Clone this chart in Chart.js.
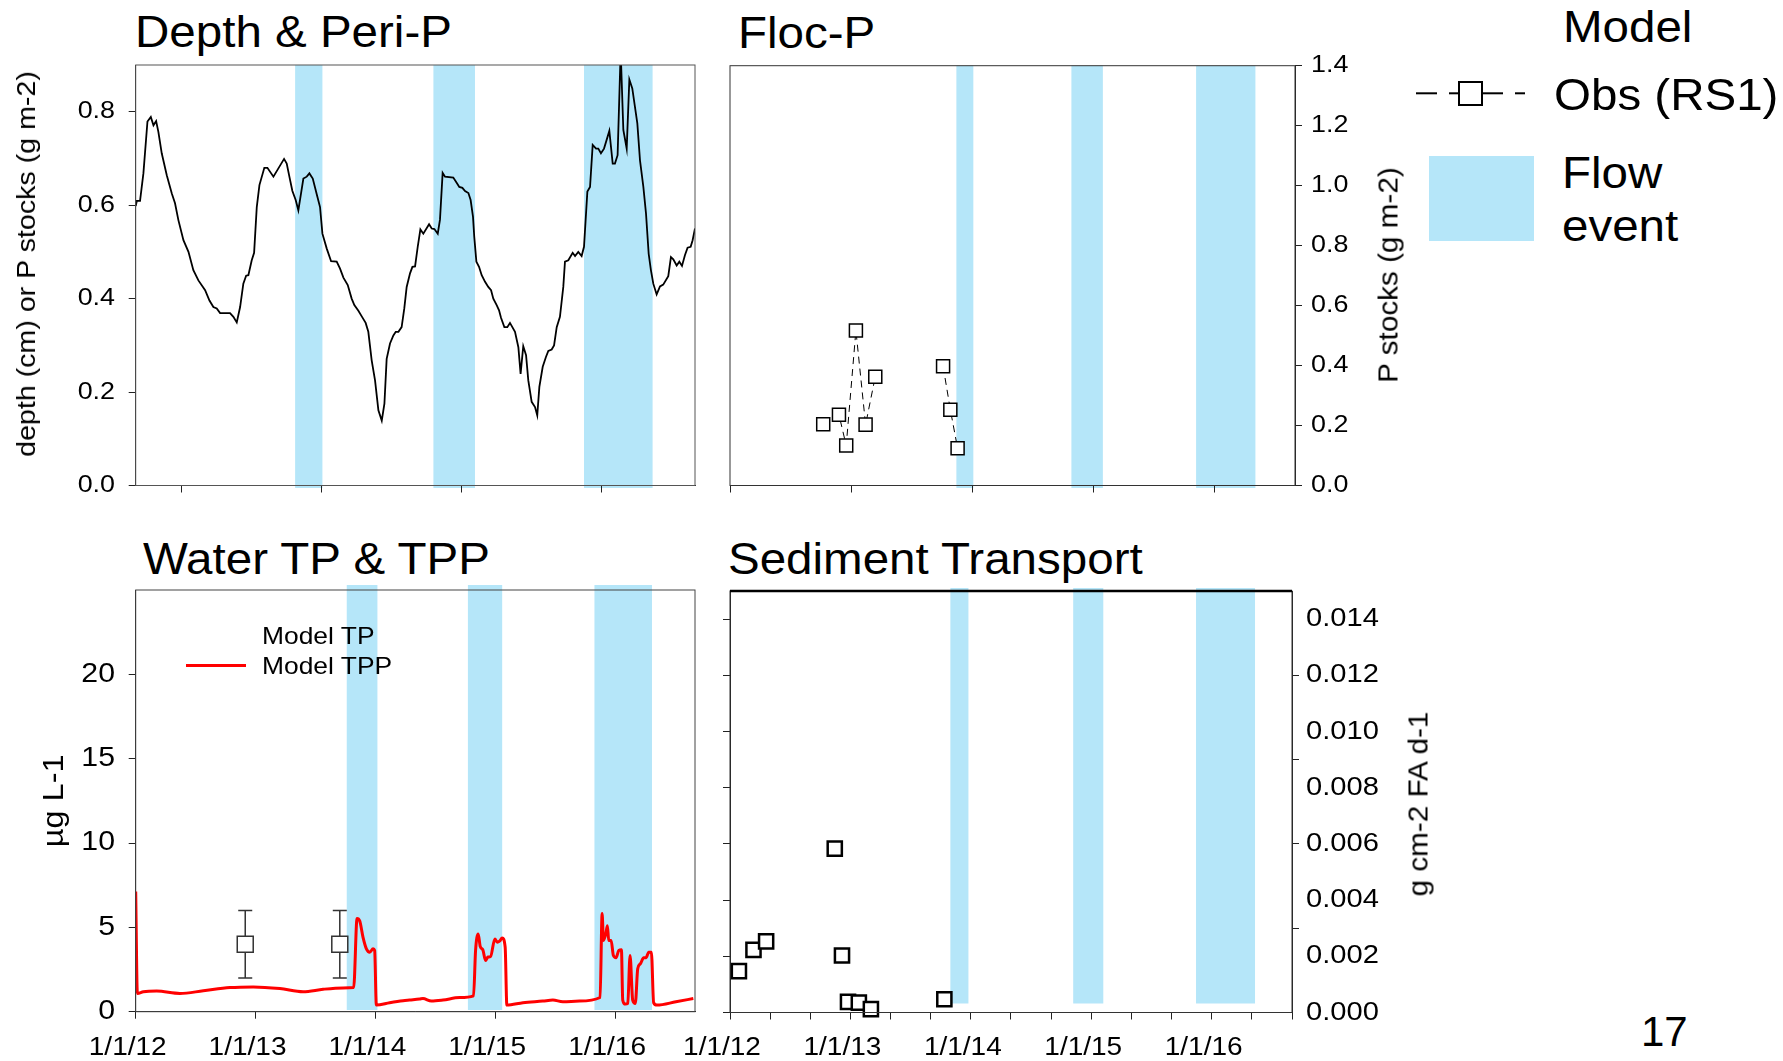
<!DOCTYPE html>
<html>
<head>
<meta charset="utf-8">
<script src="https://cdn.jsdelivr.net/npm/chart.js@4.4.1/dist/chart.umd.min.js"></script>
<style>
  body { margin: 0; background: #fff; width: 1783px; height: 1061px; position: relative; overflow: hidden;
         font-family: 'Liberation Sans', Arial, Helvetica, sans-serif; }
  canvas { position: absolute; }
  .txt { position: absolute; white-space: nowrap; line-height: 1; transform-origin: 0 0; color: #000; }
  .ttl { font-size: 44px; transform: scaleX(1.08); }
  .rot { transform-origin: 50% 50%; transform: translate(-50%, -50%) rotate(-90deg) scaleX(1.1); }
</style>
</head>
<body>
<div class="txt ttl" style="left:135px;top:9.5px">Depth &amp; Peri-P</div>
<div class="txt ttl" style="left:738px;top:11px">Floc-P</div>
<div class="txt ttl" style="left:143px;top:536.5px">Water TP &amp; TPP</div>
<div class="txt ttl" style="left:728px;top:536.5px">Sediment Transport</div>

<canvas id="cDepth" width="720" height="460" style="left:0;top:55px"></canvas>
<canvas id="cFloc" width="720" height="460" style="left:700px;top:55px"></canvas>
<canvas id="cWater" width="720" height="486" style="left:0;top:575px"></canvas>
<canvas id="cSed" width="760" height="486" style="left:660px;top:575px"></canvas>

<div class="txt rot" style="left:26px;top:264px;font-size:26px">depth (cm) or P stocks (g m-2)</div>
<div class="txt rot" style="left:1389px;top:275px;font-size:27px">P stocks (g m-2)</div>
<div class="txt rot" style="left:1419px;top:804px;font-size:27px">g cm-2 FA d-1</div>

<!-- legend, top right -->
<div class="txt ttl" style="left:1563px;top:4.5px">Model</div>
<svg style="position:absolute;left:1410px;top:78px" width="125" height="32">
  <g stroke="#000" stroke-width="2">
    <line x1="6" y1="15.3" x2="27" y2="15.3"/>
    <line x1="39" y1="15.3" x2="49" y2="15.3"/>
    <line x1="72" y1="15.3" x2="93" y2="15.3"/>
    <line x1="105" y1="15.3" x2="115" y2="15.3"/>
    <rect x="49" y="4" width="23" height="23" fill="#fff"/>
  </g>
</svg>
<div class="txt ttl" style="left:1554px;top:72.8px">Obs (RS1)</div>
<div style="position:absolute;left:1429px;top:156px;width:105px;height:85px;background:rgb(181,230,249)"></div>
<div class="txt ttl" style="left:1562px;top:150.8px">Flow</div>
<div class="txt ttl" style="left:1562px;top:203.5px">event</div>

<!-- legend, water panel -->
<div class="txt" style="left:262px;top:623.7px;font-size:24px;transform:scaleX(1.1)">Model TP</div>
<div class="txt" style="left:262px;top:654.2px;font-size:24px;transform:scaleX(1.1)">Model TPP</div>
<div style="position:absolute;left:186px;top:663.5px;width:60px;height:3px;background:#ff0000"></div>

<div class="txt" style="left:1641px;top:1011.4px;font-size:42px">17</div>

<script>
// x values are decimal years
const yearTicks = [2012, 2013, 2014, 2015, 2016];
const thirdTicks = [2012.333, 2012.667, 2013.333, 2013.667, 2014.333, 2014.667,
                    2015.333, 2015.667, 2016.333, 2016.667];

const depthTicks = [0, 0.2, 0.4, 0.6, 0.8];
const flocTicks = [0, 0.2, 0.4, 0.6, 0.8, 1.0, 1.2, 1.4];
const waterTicks = [0, 5, 10, 15, 20];
const sedLabelTicks = [0, 0.002, 0.004, 0.006, 0.008, 0.010, 0.012, 0.014];
const sedMarkTicks = [0.003, 0.006, 0.009, 0.012];

// flow events, one list per panel (bands were placed by hand in the original)
const flowDepth = [[2013.81, 2014.005], [2014.798, 2015.095], [2015.874, 2016.364]];
const flowFloc = [[2013.87, 2014.01], [2014.82, 2015.08], [2015.85, 2016.34]];
const flowWater = [[2013.761, 2014.017], [2014.772, 2015.058], [2015.828, 2016.308]];
const flowSed = [[2013.83, 2013.98], [2014.85, 2015.10], [2015.87, 2016.36]];

// Depth & Peri-P
const depthT = [2012.671, 2012.679, 2012.702, 2012.726, 2012.755, 2012.779, 2012.798, 2012.817, 2012.833, 2012.857,
  2012.893, 2012.929, 2012.952, 2012.976, 2013.012, 2013.048, 2013.083, 2013.119, 2013.167, 2013.198,
  2013.226, 2013.250, 2013.274, 2013.345, 2013.369, 2013.393, 2013.417, 2013.440, 2013.460, 2013.476,
  2013.500, 2013.517, 2013.536, 2013.555, 2013.590, 2013.612, 2013.655, 2013.731, 2013.750, 2013.769,
  2013.790, 2013.814, 2013.833, 2013.869, 2013.893, 2013.912, 2013.936, 2013.969, 2013.988,
  2014.005, 2014.036, 2014.067, 2014.107, 2014.131, 2014.155, 2014.186, 2014.214, 2014.233, 2014.262,
  2014.286, 2014.314, 2014.333, 2014.357, 2014.381, 2014.405, 2014.429, 2014.448, 2014.464, 2014.488,
  2014.512, 2014.529, 2014.548, 2014.571, 2014.590, 2014.607, 2014.631, 2014.648, 2014.667, 2014.686,
  2014.705, 2014.726, 2014.767, 2014.786, 2014.805, 2014.829, 2014.845, 2014.864, 2014.881, 2014.940,
  2014.964, 2014.983, 2015.005, 2015.024, 2015.048, 2015.064, 2015.081, 2015.090, 2015.105, 2015.124,
  2015.143, 2015.167, 2015.190, 2015.210, 2015.226, 2015.250, 2015.267, 2015.281, 2015.305,
  2015.326, 2015.345, 2015.381, 2015.405, 2015.421, 2015.440, 2015.460, 2015.476, 2015.500, 2015.524,
  2015.540, 2015.555, 2015.579, 2015.602, 2015.619, 2015.643, 2015.660, 2015.679, 2015.702, 2015.726,
  2015.738, 2015.762, 2015.793, 2015.810, 2015.833, 2015.857, 2015.874, 2015.898, 2015.917, 2015.936,
  2015.960, 2015.976, 2015.995, 2016.017, 2016.055, 2016.079, 2016.095, 2016.114, 2016.136, 2016.155,
  2016.179, 2016.198, 2016.219, 2016.255, 2016.274, 2016.298, 2016.317, 2016.336, 2016.352, 2016.369,
  2016.393, 2016.417, 2016.440, 2016.476, 2016.495, 2016.512, 2016.536, 2016.555, 2016.574, 2016.595,
  2016.614, 2016.636, 2016.650, 2016.667];
const depthV = [0.598, 0.609, 0.609, 0.668, 0.779, 0.789, 0.771, 0.780, 0.757, 0.711,
  0.664, 0.625, 0.604, 0.568, 0.525, 0.500, 0.461, 0.439, 0.418, 0.396,
  0.382, 0.379, 0.369, 0.369, 0.361, 0.349, 0.382, 0.432, 0.449, 0.450,
  0.482, 0.498, 0.596, 0.643, 0.680, 0.680, 0.661, 0.699, 0.689, 0.661,
  0.631, 0.611, 0.589, 0.657, 0.661, 0.668, 0.657, 0.618, 0.596,
  0.539, 0.507, 0.480, 0.479, 0.464, 0.445, 0.429, 0.400, 0.386, 0.374,
  0.362, 0.348, 0.329, 0.268, 0.225, 0.161, 0.139, 0.175, 0.271, 0.304,
  0.321, 0.329, 0.329, 0.339, 0.379, 0.425, 0.454, 0.468, 0.469, 0.511,
  0.548, 0.539, 0.559, 0.550, 0.549, 0.539, 0.569, 0.669, 0.661, 0.659,
  0.648, 0.639, 0.637, 0.630, 0.626, 0.611, 0.575, 0.532, 0.479, 0.468,
  0.450, 0.436, 0.425, 0.418, 0.400, 0.386, 0.375, 0.359, 0.339,
  0.339, 0.348, 0.329, 0.296, 0.239, 0.298, 0.279, 0.225, 0.179, 0.168,
  0.150, 0.211, 0.254, 0.275, 0.288, 0.291, 0.300, 0.339, 0.361, 0.425,
  0.479, 0.482, 0.498, 0.491, 0.500, 0.491, 0.511, 0.629, 0.639, 0.729,
  0.721, 0.721, 0.711, 0.721, 0.759, 0.689, 0.689, 0.707, 0.930, 0.761,
  0.721, 0.869, 0.850, 0.775, 0.696, 0.639, 0.582, 0.496, 0.461, 0.432,
  0.409, 0.426, 0.430, 0.448, 0.489, 0.484, 0.471, 0.479, 0.470, 0.493,
  0.509, 0.511, 0.525, 0.550];

// Floc-P observations (null breaks the line)
const flocT = [2012.77, 2012.90, 2012.96, 2013.04, 2013.12, 2013.20, 2013.50, 2013.76, 2013.82, 2013.88];
const flocV = [0.204, 0.236, 0.133, 0.517, 0.203, 0.363, null, 0.398, 0.253, 0.124];

// Water TPP model and TP observations
const tppT = [2012.000, 2012.014, 2012.064, 2012.175, 2012.369, 2012.564, 2012.786, 2012.981, 2013.203, 2013.397,
  2013.564, 2013.731, 2013.819, 2013.847, 2013.869, 2013.897, 2013.925, 2013.953, 2013.981, 2013.994,
  2014.008, 2014.119, 2014.231, 2014.286, 2014.369, 2014.397, 2014.467, 2014.564, 2014.703, 2014.819,
  2014.836, 2014.858, 2014.875, 2014.897, 2014.919, 2014.939, 2014.961, 2014.997, 2015.017, 2015.036,
  2015.058, 2015.083, 2015.097, 2015.231, 2015.397, 2015.481, 2015.564, 2015.703, 2015.875, 2015.892,
  2015.903, 2015.925, 2015.936, 2015.947, 2015.967, 2015.986, 2016.008, 2016.031, 2016.053, 2016.064,
  2016.086, 2016.106, 2016.125, 2016.147, 2016.169, 2016.189, 2016.211, 2016.239, 2016.258, 2016.281,
  2016.303, 2016.322, 2016.350, 2016.508, 2016.653];
const tppV = [7.12, 1.08, 1.18, 1.22, 1.08, 1.24, 1.43, 1.47, 1.37, 1.18,
  1.33, 1.41, 1.43, 5.53, 5.39, 4.41, 3.73, 3.53, 3.73, 3.63,
  0.39, 0.53, 0.65, 0.69, 0.75, 0.78, 0.63, 0.69, 0.84, 0.94,
  3.63, 4.61, 3.86, 3.67, 3.04, 3.24, 3.27, 4.31, 4.12, 4.18,
  4.37, 3.82, 0.39, 0.53, 0.63, 0.69, 0.59, 0.63, 0.84, 5.82,
  4.22, 4.71, 5.10, 4.22, 4.22, 3.33, 3.20, 3.63, 3.67, 0.69,
  0.45, 0.49, 3.33, 0.69, 0.49, 2.55, 2.84, 3.20, 3.20, 3.53,
  3.53, 0.53, 0.39, 0.59, 0.78];
const tpObsT = [2012.914, 2013.703];
const tpObsV = [4, 4];
const tpObsLo = [2, 2];
const tpObsHi = [6, 6];

// Sediment transport observations
const sedT = [2012.074, 2012.195, 2012.300, 2012.870, 2012.930, 2012.980, 2013.070, 2013.170, 2013.780];
const sedV = [0.00147, 0.00223, 0.00253, 0.00583, 0.00203, 0.00038, 0.00035, 0.00012, 0.00047];

const FLOW = 'rgb(181, 230, 249)';
const AXIS = '#222';
const TEXT_SX = 1.12;   // the original lettering is a little wide

Chart.defaults.font.family = "'Liberation Sans', Arial, Helvetica, sans-serif";
Chart.defaults.color = '#000';

const pts = (t, v) => t.map((x, i) => ({ x: x, y: v[i] }));

// widen canvas text around its anchor point
const stretchText = {
  id: 'stretchText',
  beforeInit(chart) {
    const ctx = chart.ctx, fill = ctx.fillText;
    ctx.fillText = function (t, x, y) {
      this.save();
      this.translate(x, y);
      this.scale(TEXT_SX, 1);
      fill.call(this, t, 0, 0);
      this.restore();
    };
  }
};

const bands = {
  id: 'bands',
  beforeDraw(chart, args, o) {
    const x = chart.scales.x, a = chart.chartArea, ctx = chart.ctx;
    ctx.save();
    ctx.fillStyle = FLOW;
    o.list.forEach(b => {
      const x0 = x.getPixelForValue(b[0]), x1 = x.getPixelForValue(b[1]);
      ctx.fillRect(x0, a.top - o.above, x1 - x0, a.bottom - a.top + o.above + o.below);
    });
    ctx.restore();
  }
};

const box = {
  id: 'box',
  afterDraw(chart, args, o) {
    const a = chart.chartArea, ctx = chart.ctx;
    ctx.save();
    ctx.strokeStyle = o.color;
    ctx.lineWidth = 1;
    ctx.strokeRect(a.left, a.top, a.right - a.left, a.bottom - a.top);
    if (o.topWidth) {
      ctx.strokeStyle = '#000';
      ctx.lineWidth = o.topWidth;
      ctx.beginPath();
      ctx.moveTo(a.left, a.top);
      ctx.lineTo(a.right, a.top);
      ctx.stroke();
    }
    ctx.restore();
  }
};

const errBars = {
  id: 'errBars',
  beforeDatasetsDraw(chart) {
    const x = chart.scales.x, y = chart.scales.y, ctx = chart.ctx;
    ctx.save();
    ctx.strokeStyle = '#333';
    ctx.lineWidth = 1.5;
    tpObsT.forEach((t, i) => {
      const px = x.getPixelForValue(t);
      const lo = y.getPixelForValue(tpObsLo[i]), hi = y.getPixelForValue(tpObsHi[i]);
      ctx.beginPath();
      ctx.moveTo(px, lo); ctx.lineTo(px, hi);
      ctx.moveTo(px - 7, lo); ctx.lineTo(px + 7, lo);
      ctx.moveTo(px - 7, hi); ctx.lineTo(px + 7, hi);
      ctx.stroke();
    });
    ctx.restore();
  }
};

function xAxis(min, max, minor, height, size, pad, showLabels) {
  const all = yearTicks.concat(minor).filter(v => v >= min - 1e-6 && v <= max + 1e-6).sort((a, b) => a - b);
  return {
    type: 'linear', position: 'bottom', min: min, max: max,
    afterBuildTicks: s => { s.ticks = all.map(v => ({ value: v })); },
    afterFit: s => { s.height = height; s.paddingLeft = 0; s.paddingRight = 0; },
    grid: { drawOnChartArea: false, tickLength: 7, color: AXIS },
    border: { color: AXIS, width: 1 },
    ticks: {
      autoSkip: false, maxRotation: 0, padding: pad, labelOffset: -8, font: { size: size },
      callback: v => (showLabels && yearTicks.includes(v)) ? '1/1/' + String(v).slice(2) : ''
    }
  };
}

function yAxis(pos, min, max, list, width, size, pad, fmt, title) {
  return {
    type: 'linear', position: pos, min: min, max: max,
    afterBuildTicks: s => { s.ticks = list.map(v => ({ value: v })); },
    afterFit: s => { s.width = width; s.paddingTop = 0; s.paddingBottom = 0; },
    grid: { drawOnChartArea: false, tickLength: 7, color: AXIS },
    border: { color: AXIS, width: 1 },
    ticks: { padding: pad, font: { size: size }, callback: fmt },
    title: title || { display: false }
  };
}

const base = {
  responsive: false, animation: false, devicePixelRatio: 1,
  events: []
};

// Depth & Peri-P
new Chart(document.getElementById('cDepth'), {
  type: 'scatter',
  data: { datasets: [{
    data: pts(depthT, depthV), showLine: true, borderColor: '#000', borderWidth: 1.8,
    pointRadius: 0, tension: 0
  }] },
  options: Object.assign({}, base, {
    layout: { padding: { left: 0, top: 10, right: 25, bottom: 0 } },
    plugins: { legend: { display: false }, tooltip: { enabled: false },
      bands: { list: flowDepth, above: 0, below: 2.5 }, box: { color: '#555' } },
    scales: {
      x: xAxis(2012.671, 2016.667, [], 29.5, 24, 6, false),
      y: yAxis('left', 0, 0.9, depthTicks, 135.7, 24, 13.7, v => v.toFixed(1))
    }
  }),
  plugins: [stretchText, bands, box]
});

// Floc-P
new Chart(document.getElementById('cFloc'), {
  type: 'scatter',
  data: { datasets: [{
    data: pts(flocT, flocV), showLine: true, spanGaps: false,
    borderColor: '#000', borderWidth: 1, borderDash: [7, 5],
    pointStyle: 'rect', pointRadius: 9.2, pointBackgroundColor: '#fff',
    pointBorderColor: '#000', pointBorderWidth: 1.5, clip: false
  }] },
  options: Object.assign({}, base, {
    layout: { padding: { left: 30, top: 10, right: 0, bottom: 0 } },
    plugins: { legend: { display: false }, tooltip: { enabled: false },
      bands: { list: flowFloc, above: 0, below: 2.5 }, box: { color: '#333' } },
    scales: {
      x: xAxis(2012, 2016.667, [], 29.5, 24, 6, false),
      y: yAxis('right', 0, 1.4, flocTicks, 125, 24, 9, v => v.toFixed(1))
    }
  }),
  plugins: [stretchText, bands, box]
});

// Water TP & TPP
new Chart(document.getElementById('cWater'), {
  type: 'scatter',
  data: { datasets: [
    { data: pts(tpObsT, tpObsV), pointStyle: 'rect', pointRadius: 11.3, pointBackgroundColor: '#fff',
      pointBorderColor: '#333', pointBorderWidth: 1.5, clip: false },
    { data: pts(tppT, tppV), showLine: true, borderColor: '#ff0000', borderWidth: 3,
      pointRadius: 0, cubicInterpolationMode: 'monotone' }
  ] },
  options: Object.assign({}, base, {
    layout: { padding: { left: 0, top: 15, right: 25, bottom: 0 } },
    plugins: { legend: { display: false }, tooltip: { enabled: false },
      bands: { list: flowWater, above: 5, below: -1.7 }, box: { color: '#444' } },
    scales: {
      x: xAxis(2012, 2016.667, [], 49.3, 25, 14, true),
      y: yAxis('left', 0, 25, waterTicks, 135.7, 27, 13.7, v => String(v),
        { display: true, text: 'µg L-1', font: { size: 29 }, padding: { top: 38, bottom: 0 } })
    }
  }),
  plugins: [stretchText, bands, errBars, box]
});

// Sediment Transport
const sedAll = sedLabelTicks.concat(sedMarkTicks.filter(v => !sedLabelTicks.includes(v))).sort((a, b) => a - b);
const sedRight = yAxis('right', 0, 0.015, sedAll, 128, 26, 7,
  v => sedLabelTicks.includes(v) ? v.toFixed(3) : '');
sedRight.grid = { drawOnChartArea: false, tickLength: 7,
  color: c => (c.tick && sedMarkTicks.includes(c.tick.value)) ? AXIS : 'rgba(0,0,0,0)' };

new Chart(document.getElementById('cSed'), {
  type: 'scatter',
  data: { datasets: [{
    data: pts(sedT, sedV), pointStyle: 'rect', pointRadius: 10, pointBackgroundColor: '#fff',
    pointBorderColor: '#000', pointBorderWidth: 2.5, clip: false
  }] },
  options: Object.assign({}, base, {
    layout: { padding: { left: 40, top: 16, right: 0, bottom: 0 } },
    plugins: { legend: { display: false }, tooltip: { enabled: false },
      bands: { list: flowSed, above: 3, below: -9 }, box: { color: '#333', topWidth: 2.5 } },
    scales: {
      x: xAxis(2012, 2016.667, thirdTicks, 48.5, 25, 14, true),
      yl: yAxis('left', 0, 0.015, sedLabelTicks, 30, 10, 0, () => ''),
      y: sedRight
    }
  }),
  plugins: [stretchText, bands, box]
});
</script>
</body>
</html>
